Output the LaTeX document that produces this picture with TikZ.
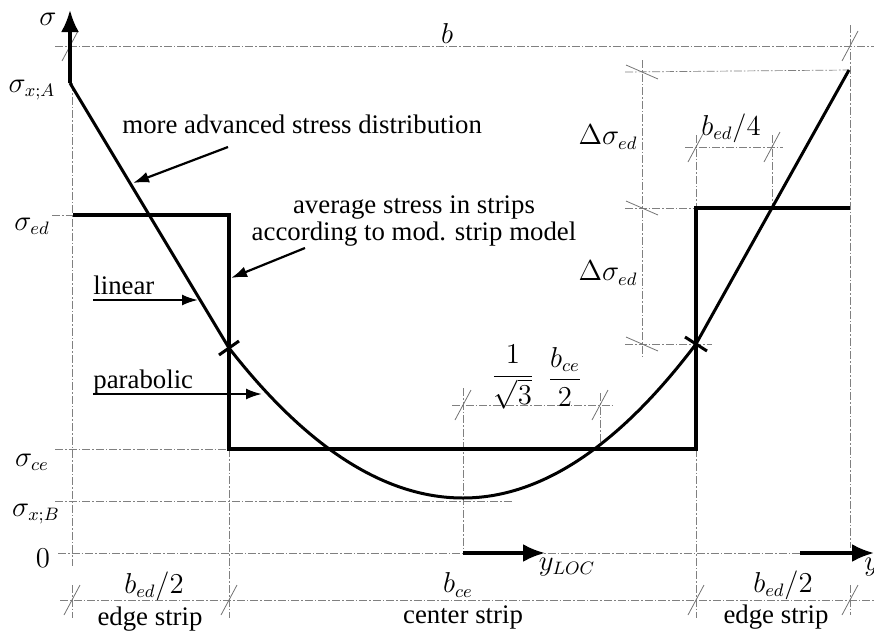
\documentclass[tikz,border=0pt]{standalone}
\usepackage{fontspec}
\setmainfont{Liberation Serif}
\usetikzlibrary{arrows.meta}
\begin{document}
\begin{tikzpicture}[x=0.5pt,y=-0.5pt,
  every node/.style={font=\fontsize{13.4}{16}\selectfont, inner sep=0pt},
  aux/.style={draw=black!50, line width=0.35pt, dash pattern=on 4pt off 1pt on 0.8pt off 1pt},
  tk/.style={draw=black!55, line width=0.4pt},
  curve/.style={line width=1.5pt},
  strip/.style={line width=1.6pt},
  axis/.style={line width=1.6pt, -{Latex[length=11pt,width=9pt]}},
  note/.style={line width=1.1pt, -{Latex[length=8pt,width=5.5pt]}},
  cross/.style={line width=1.5pt},
]
\useasboundingbox (0,0) rectangle (874,632);

% key points of the curve and the strips
\coordinate (A) at (70,83);
\coordinate (P) at (229,348);
\coordinate (V) at (463,498);
\coordinate (Q) at (696,344);
\coordinate (E) at (849,70);
\coordinate (L1) at (73,215);
\coordinate (L2) at (229,215);
\coordinate (L3) at (229,449);
\coordinate (R3) at (696,449);
\coordinate (R2) at (696,208);
\coordinate (R1) at (850,208);

% ---------- auxiliary (dimension / reference) lines ----------
% b
\draw[aux] (55,46) -- (874,46);
\draw[tk] (70,46) ++(-8,15) -- ++(16,-30);
\draw[tk] (850,46) ++(-8,15) -- ++(16,-30);
\draw[aux] (850,25) -- (850,548);
% left axis continuation
\draw[aux] (72,83) -- (72,566);
\draw[aux] (72,585) -- (72,618);
% horizontal reference lines
\draw[aux] (52,215) -- (L1);
\draw[aux] (55,449) -- (L3);
\draw[aux] (55,501) -- (513,501);
\draw[aux] (58,553) -- (800,553);
% verticals below strips
\draw[aux] (L3) -- (229,618);
\draw[aux] (R3) -- (696,618);
\draw[aux] (850,585) -- (850,615);
% centre
\draw[aux] (463,388) -- (463,553);
\draw[aux] (600,393) -- (600,449);
\draw[aux] (452,405) -- (612,405);
\draw[tk] (463,405) ++(-8,15) -- ++(16,-30);
\draw[tk] (600,405) ++(-8,15) -- ++(16,-30);
% bottom dimension line
\draw[aux] (60,600) -- (874,600);
\foreach \xx in {72,229,696,850} \draw[tk] (\xx,600) ++(-8,15) -- ++(16,-30);
% Delta sigma_ed
\draw[aux] (642,60) -- (642,356);
\draw[aux] (625,72) -- (E);
\draw[aux] (625,208) -- (R2);
\draw[aux] (625,344) -- (712,344);
\foreach \yy in {72,208,344} \draw[tk] (642,\yy) ++(-16,-7) -- ++(32,14);
% b_ed/4
\draw[aux] (685,147) -- (783,147);
\draw[aux] (696,135) -- (R2);
\draw[aux] (772,135) -- (772,208);
\draw[tk] (696,147) ++(-8,15) -- ++(16,-30);
\draw[tk] (772,147) ++(-8,15) -- ++(16,-30);

% ---------- main drawing ----------
\draw[strip] (L1) -- (L2) -- (L3) -- (R3) -- (R2) -- (R1);
\draw[curve] (A) -- (P) .. controls (307,448) and (385,498) .. (V)
  .. controls (540.7,498) and (618.3,446.7) .. (Q) -- (E);
\draw[cross] (P) ++(-10,7) -- ++(20,-14);
\draw[cross] (Q) ++(-11,-7) -- ++(22,14);

% axes
\draw[axis] (A) -- (70,10);
\draw[axis] (800,553) -- (874,553);
\draw[axis] (463,553) -- (545,553);

% ---------- labels ----------
\node (sig) at (48,19) {$\sigma$};
\node (sxA) at (32,90) {$\sigma_{x;A}$};
\node (sed) at (32,226) {$\sigma_{ed}$};
\node (sce) at (32,462) {$\sigma_{ce}$};
\node (sxB) at (36,514) {$\sigma_{x;B}$};
\node (zero) at (43,558) {$0$};
\node (b) at (447,33) {$b$};
\node (ds1) at (608,137) {$\Delta\sigma_{ed}$};
\node (ds2) at (608,273) {$\Delta\sigma_{ed}$};
\node (bed4) at (731,128) {$b_{ed}/4$};
\node (frac1) at (513,377) {$\displaystyle\frac{1}{\sqrt{3}}$};
\node (frac2) at (565,377) {$\displaystyle\frac{b_{ce}}{2}$};
\node (bedL) at (154,586) {$b_{ed}/2$};
\node (esL) at (150,619) {edge strip};
\node (bce) at (458,585) {$b_{ce}$};
\node (cs) at (463,617) {center strip};
\node (bedR) at (783,585) {$b_{ed}/2$};
\node (esR) at (776,617) {edge strip};
\node (yloc) at (567,567) {$y_{LOC}$};
\node[anchor=west] (yy) at (864,567) {$y$};

\node[anchor=base west] (adv) at (122,133) {more advanced stress distribution};
\node[anchor=base] (avg1) at (414,213) {average stress in strips};
\node[anchor=base] (avg2) at (414,240) {according to mod. strip model};
\node[anchor=base west] (lin) at (93,294) {linear};
\node[anchor=base west] (par) at (93,388) {parabolic};

% annotation arrows
\coordinate (advT) at (133,183);
\coordinate (avgT) at (231,278);
\coordinate (linT) at (198,300);
\coordinate (parT) at (262,394);
\draw[note] (228,147) -- (advT);
\draw[note] (305,248) -- (avgT);
\draw[note] (lin.base west) ++(0,6) -- (linT);
\draw[note] (par.base west) ++(0,6) -- (parT);
\end{tikzpicture}
\end{document}
